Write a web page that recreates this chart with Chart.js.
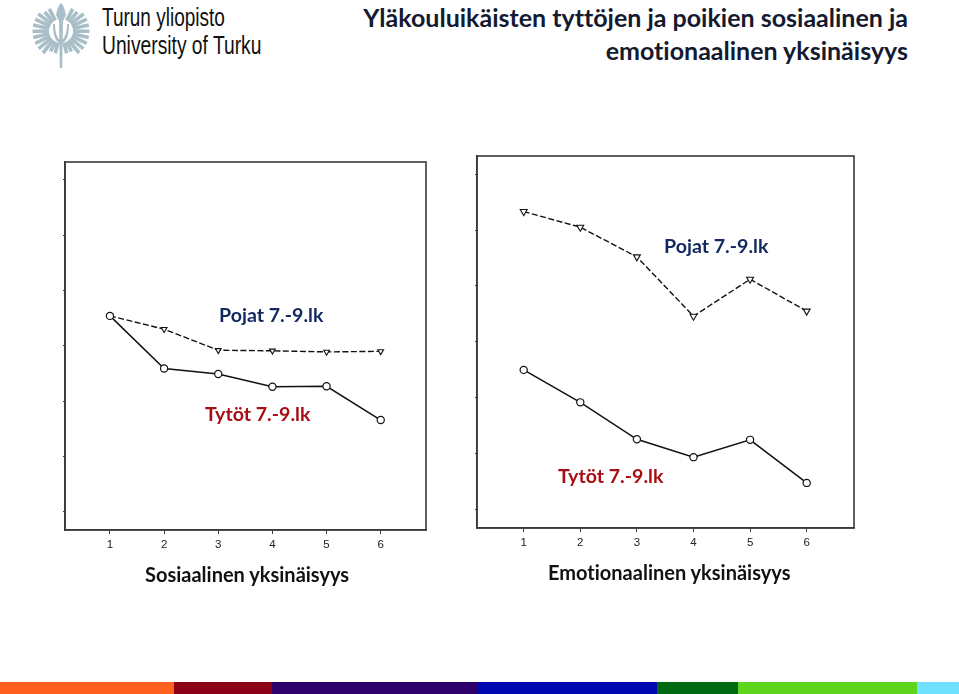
<!DOCTYPE html>
<html lang="fi">
<head>
<meta charset="utf-8">
<title>Yläkouluikäisten tyttöjen ja poikien sosiaalinen ja emotionaalinen yksinäisyys</title>
<script src="https://cdn.jsdelivr.net/npm/chart.js@4/dist/chart.umd.min.js"></script>
<style>
html, body { margin: 0; padding: 0; background: #fff; }
#page { position: relative; width: 959px; height: 694px; overflow: hidden; font-family: Lato, "Open Sans", sans-serif; font-variant-ligatures: none; }
#page canvas { position: absolute; }
.txt { position: absolute; white-space: nowrap; line-height: 1; }
.title { right: 51px; font-size: 25px; font-weight: 700; color: #141a30; }
.lab { font-size: 19.6px; font-weight: 700; }
.boys { color: #12295f; }
.girls { color: #a80f14; }
.axis { font-size: 20px; font-weight: 700; color: #111; }
.logotxt { font-family: "Liberation Sans Narrow", "Liberation Sans", sans-serif; color: #111; transform-origin: 0 0; }
#band { position: absolute; left: 0; top: 682px; width: 959px; height: 12px; display: flex; }
#band div { height: 12px; }
</style>
</head>
<body>
<div id="page">
  <svg id="logo" style="position:absolute;left:30px;top:0" width="64" height="72"></svg>
  <div class="txt logotxt" style="left:102px;top:5px;font-size:25px;transform:scaleX(.76)">Turun yliopisto</div>
  <div class="txt logotxt" style="left:102px;top:33px;font-size:25px;transform:scaleX(.77)">University of Turku</div>
  <div class="txt title" style="top:5px">Yläkouluikäisten tyttöjen ja poikien sosiaalinen ja</div>
  <div class="txt title" style="top:38px">emotionaalinen yksinäisyys</div>

  <canvas id="socialChart" style="left:40px;top:150px" width="400" height="440"></canvas>
  <canvas id="emotionalChart" style="left:452px;top:146px" width="420" height="440"></canvas>

  <div class="txt lab boys" style="left:219px;top:305px">Pojat 7.-9.lk</div>
  <div class="txt lab girls" style="left:205px;top:404px">Tytöt 7.-9.lk</div>
  <div class="txt lab boys" style="left:664px;top:236px">Pojat 7.-9.lk</div>
  <div class="txt lab girls" style="left:558px;top:466px">Tytöt 7.-9.lk</div>
  <div class="txt axis" style="left:145px;top:564px">Sosiaalinen yksinäisyys</div>
  <div class="txt axis" style="left:548px;top:562px">Emotionaalinen yksinäisyys</div>
  <div id="band"></div>
</div>

<script>
// Values
const grades = [1, 2, 3, 4, 5, 6];
const yTicks = [1, 2, 3, 4, 5, 6, 7];
const socialBoys = [4.54, 4.30, 3.92, 3.91, 3.89, 3.90];
const socialGirls = [4.54, 3.59, 3.49, 3.26, 3.27, 2.66];
const emotionalBoys = [6.33, 6.05, 5.52, 4.46, 5.12, 4.55];
const emotionalGirls = [3.50, 2.92, 2.26, 1.94, 2.25, 1.48];

// Footer band
const bandColors = ['#ff5f1f', '#8b0016', '#2d006b', '#0008b0', '#006a12', '#5fd41e', '#70e0ff'];
const bandWidths = [174, 98, 205, 180, 81, 179, 42];

const AXIS_COLOR = '#3a3a3a';

// Closes the plot frame on the top and right side
const frame = {
    id: 'frame',
    afterDraw(chart) {
        const { ctx, chartArea: a } = chart;
        ctx.save();
        ctx.strokeStyle = AXIS_COLOR;
        ctx.lineWidth = 1.6;
        ctx.strokeRect(a.left, a.top, a.right - a.left, a.bottom - a.top);
        ctx.restore();
    }
};

function toPoints(values) {
    return values.map((v, i) => ({ x: grades[i], y: v }));
}

function renderChart(id, boys, girls, opts) {
    const ctx = document.getElementById(id).getContext('2d');
    return new Chart(ctx, {
        type: 'line',
        data: {
            datasets: [{
                label: 'Tytöt 7.-9.lk',
                data: toPoints(girls),
                borderColor: '#111',
                borderWidth: 1.5,
                pointStyle: 'circle',
                pointRadius: 3.6,
                pointBorderWidth: 1.2,
                pointBorderColor: '#111',
                pointBackgroundColor: '#fff',
                tension: 0
            }, {
                label: 'Pojat 7.-9.lk',
                data: toPoints(boys),
                borderColor: '#111',
                borderWidth: 1.4,
                borderDash: [6, 2.5],
                pointStyle: 'triangle',
                pointRotation: 180,
                pointRadius: opts.triangle,
                pointBorderWidth: 1.1,
                pointBorderColor: '#111',
                pointBackgroundColor: '#fff',
                tension: 0
            }]
        },
        plugins: [frame],
        options: {
            responsive: false,
            animation: false,
            devicePixelRatio: 1,
            layout: { padding: { top: opts.top, right: opts.right, left: 0, bottom: 0 } },
            plugins: { legend: { display: false }, tooltip: { enabled: false } },
            scales: {
                x: {
                    type: 'linear',
                    min: opts.xMin,
                    max: opts.xMax,
                    afterFit(scale) { scale.height = opts.bottom; },
                    afterBuildTicks(scale) { scale.ticks = grades.map(v => ({ value: v })); },
                    grid: { drawOnChartArea: false, tickLength: 4, tickColor: AXIS_COLOR, tickWidth: 1 },
                    border: { color: AXIS_COLOR, width: 1.6 },
                    ticks: { autoSkip: false, maxRotation: 0, padding: 4, color: '#222', font: { family: '"Liberation Sans"', size: 11.5 } }
                },
                y: {
                    min: opts.yMin,
                    max: opts.yMax,
                    afterFit(scale) { scale.width = opts.left; },
                    afterBuildTicks(scale) { scale.ticks = yTicks.map(v => ({ value: v })); },
                    grid: { drawOnChartArea: false, tickLength: 2, tickColor: AXIS_COLOR, tickWidth: 1 },
                    border: { color: AXIS_COLOR, width: 1.6 },
                    ticks: { display: false }
                }
            }
        }
    });
}

renderChart('socialChart', socialBoys, socialGirls, {
    left: 25, top: 12, right: 14, bottom: 60, triangle: 3.3,
    xMin: 0.17, xMax: 6.836, yMin: 0.675, yMax: 7.318
});
renderChart('emotionalChart', emotionalBoys, emotionalGirls, {
    left: 25, top: 10, right: 18, bottom: 58, triangle: 4,
    xMin: 0.175, xMax: 6.836, yMin: 0.674, yMax: 7.323
});

const band = document.getElementById('band');
bandColors.forEach((c, i) => {
    const d = document.createElement('div');
    d.style.background = c;
    d.style.width = bandWidths[i] + 'px';
    band.appendChild(d);
});

// Logo: torch and fanned wings
const svg = document.getElementById('logo');
let logo = '';
const LOGO = '#a9bfc7';
for (let i = 0; i < 12; i++) {
    const a = (-62 + i * 12.5) * Math.PI / 180;
    [1, -1].forEach(s => {
        const r0 = 12, r1 = i < 2 ? 25 : (i > 9 ? 23 : 28.5);
        const x0 = 31 + s * (r0 * Math.cos(a)), y0 = 31 + r0 * Math.sin(a);
        const x1 = 31 + s * (r1 * Math.cos(a)), y1 = 31 + r1 * Math.sin(a);
        logo += `<line x1="${x0}" y1="${y0}" x2="${x1}" y2="${y1}" stroke="${LOGO}" stroke-width="3.6"/>`;
    });
}
logo += `<path d="M31 3c4 4 4 9 5 12l-3 6h-4l-3-6c1-3 1-8 5-12z" fill="${LOGO}"/>`;
logo += `<path d="M29 20h4l-.8 48h-2.4z" fill="${LOGO}"/>`;
logo += `<path d="M23 24c0 13 3 18 8 20 5-2 8-7 8-20h-2c0 10-3 15-6 17-3-2-6-7-6-17z" fill="${LOGO}"/>`;
svg.innerHTML = logo;
</script>
</body>
</html>
